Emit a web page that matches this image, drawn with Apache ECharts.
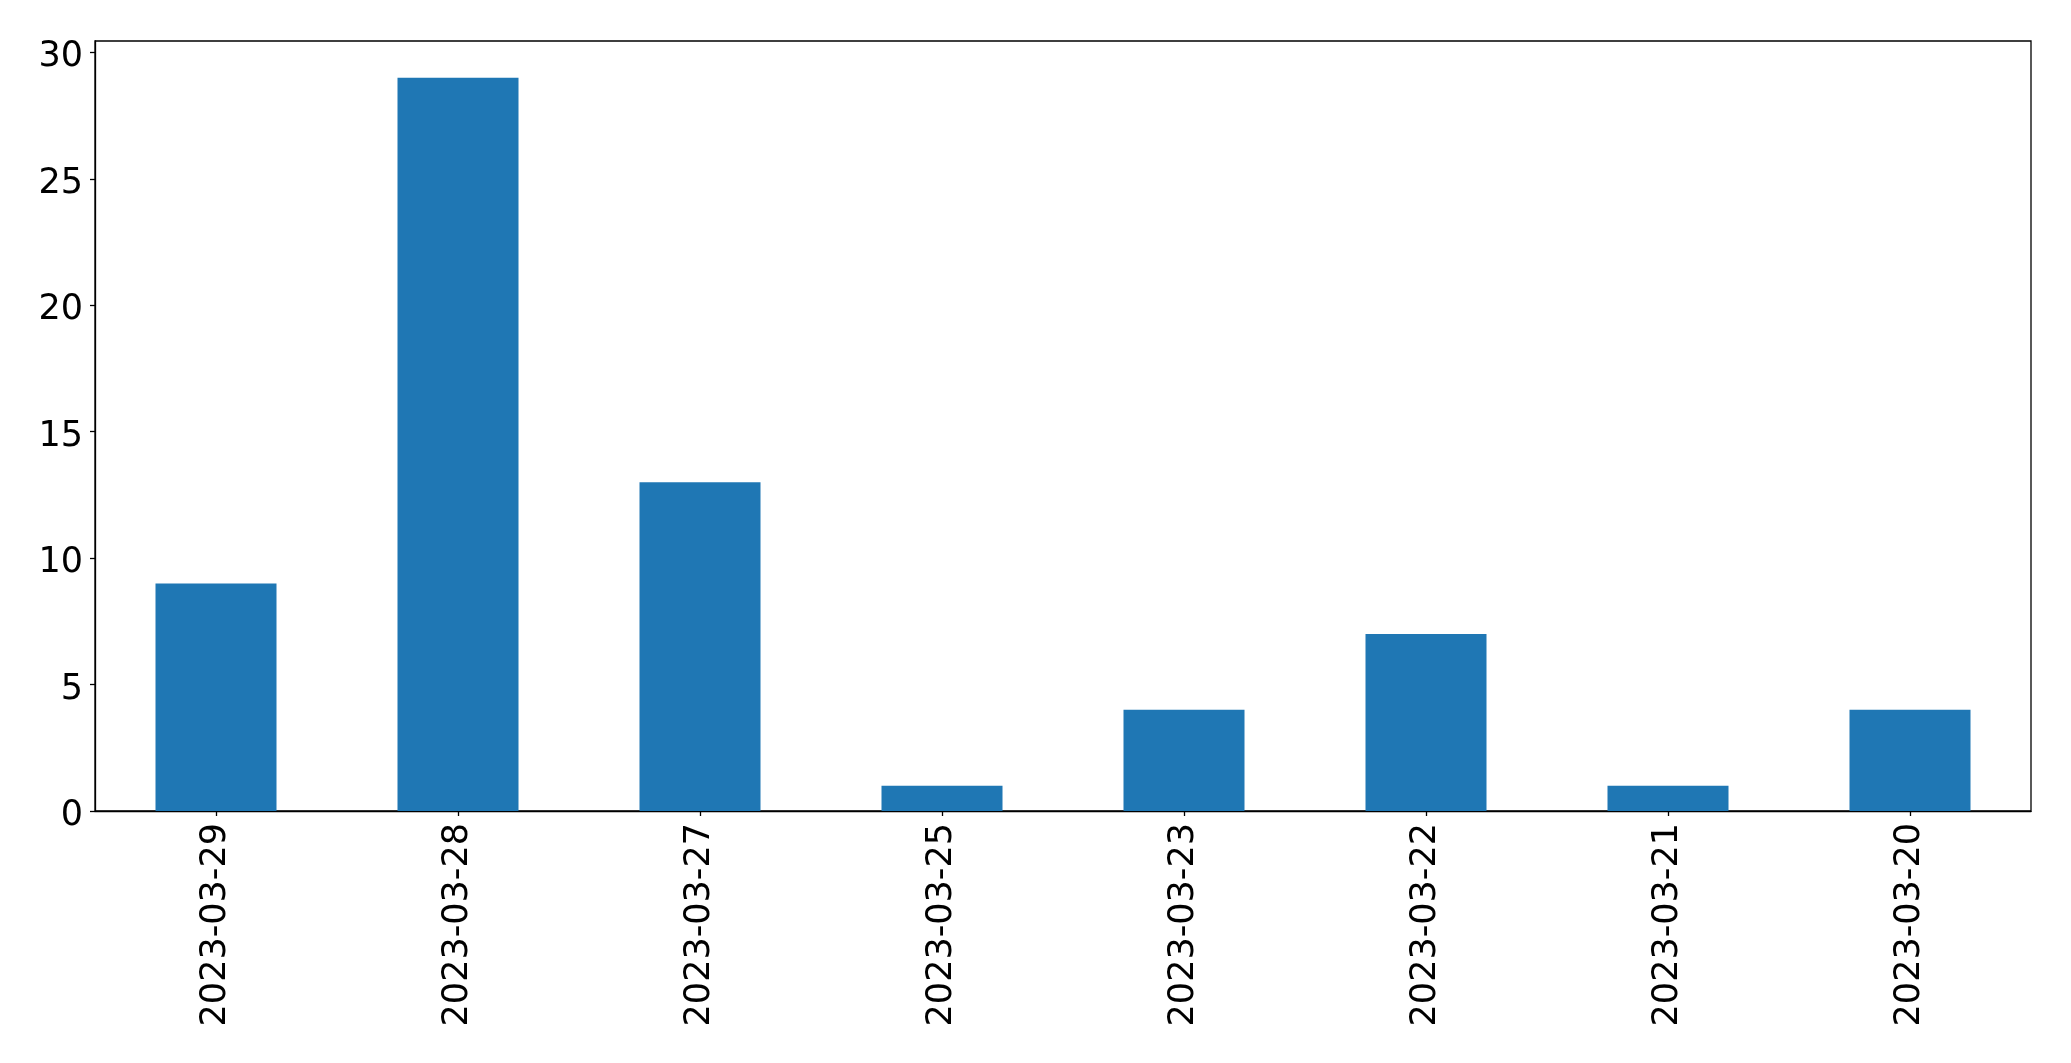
<!DOCTYPE html>
<html>
<head>
<meta charset="utf-8">
<script src="https://cdn.jsdelivr.net/npm/echarts@6/dist/echarts.min.js"></script>
<style>
html,body{margin:0;padding:0;background:#fff;}
#chart{width:2071px;height:1063px;}
</style>
</head>
<body>
<div id="chart"></div>
<script>
const categories = ['2023-03-29','2023-03-28','2023-03-27','2023-03-25','2023-03-23','2023-03-22','2023-03-21','2023-03-20'];
const counts = [9, 29, 13, 1, 4, 7, 1, 4];
const yTicks = [0, 5, 10, 15, 20, 25, 30];

const chart = echarts.init(document.getElementById('chart'), null, {renderer:'canvas'});
const font = 'DejaVu Sans';
chart.setOption({
  animation: false,
  backgroundColor: '#ffffff',
  grid: {left: 95, top: 41, right: 40, bottom: 252, show: true, borderColor: '#000', borderWidth: 1.3, backgroundColor: 'transparent'},
  xAxis: {
    type: 'category',
    data: categories,
    axisLine: {show: true, lineStyle: {color: '#000', width: 1.3}},
    axisTick: {show: true, alignWithLabel: true, length: 5, lineStyle: {color: '#000', width: 1.3}},
    axisLabel: {rotate: 90, fontSize: 35, fontFamily: font, color: '#000', margin: 12, interval: 0},
    splitLine: {show: false}
  },
  yAxis: {
    type: 'value',
    min: 0,
    max: 30.45,
    interval: 5,
    axisLine: {show: true, lineStyle: {color: '#000', width: 1.3}},
    axisTick: {show: true, length: 5, lineStyle: {color: '#000', width: 1.3}},
    axisLabel: {fontSize: 35, fontFamily: font, color: '#000', margin: 12, showMaxLabel: false,
      formatter: v => yTicks.includes(v) ? '{v|' + v + '}' : '',
      rich: {v: {fontSize: 35, fontFamily: font, color: '#000', padding: [10, 0, 0, 0]}}},
    splitLine: {show: false}
  },
  series: [{
    type: 'bar',
    data: counts,
    barWidth: '50%',
    itemStyle: {color: '#1f77b4'}
  }]
});
</script>
</body>
</html>
